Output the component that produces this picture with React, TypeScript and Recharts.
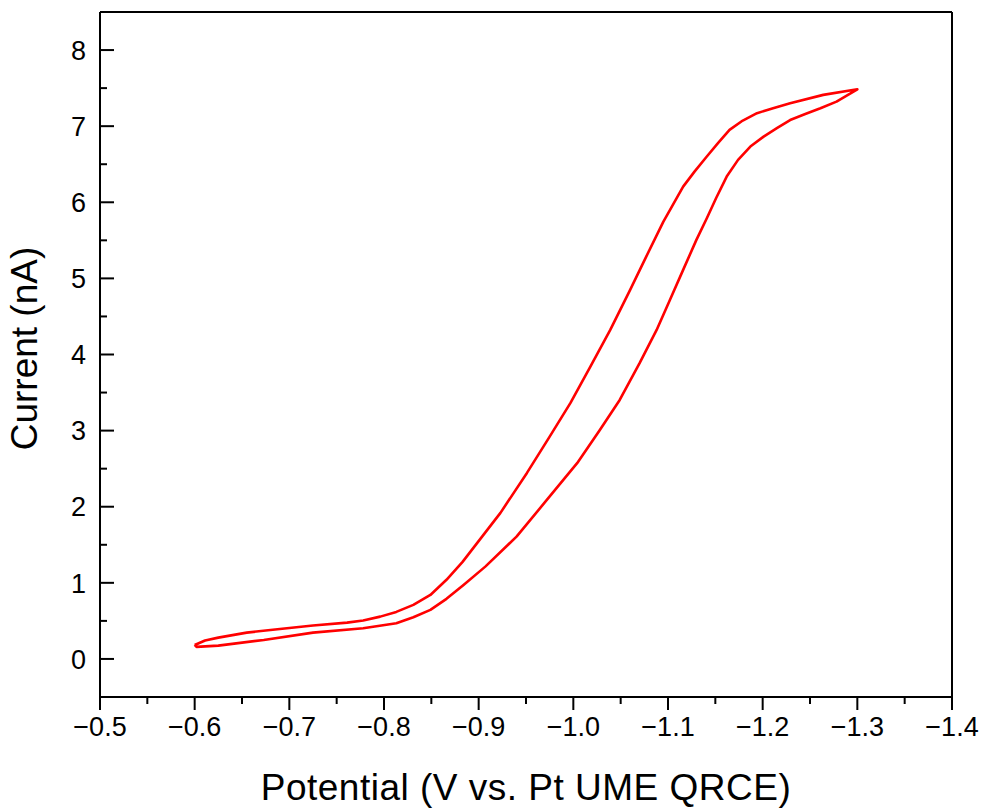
import { LineChart, Line, XAxis, YAxis, ReferenceLine, Label } from "recharts";

// cyclic voltammogram: out along the inner branch, back along the outer one
const potential = [
  -0.6, -0.611, -0.625, -0.655, -0.69, -0.725, -0.761, -0.778, -0.796, -0.813,
  -0.831, -0.849, -0.866, -0.883, -0.923, -0.951, -0.975, -0.997, -1.018, -1.039,
  -1.06, -1.077, -1.095, -1.116, -1.128, -1.141, -1.153, -1.165, -1.179, -1.194,
  -1.211, -1.229, -1.264, -1.3,
  -1.278, -1.261, -1.245, -1.229, -1.215, -1.201, -1.187, -1.174, -1.162, -1.151,
  -1.141, -1.13, -1.116, -1.102, -1.088, -1.07, -1.049, -1.028, -1.004, -0.972,
  -0.94, -0.907, -0.884, -0.866, -0.849, -0.831, -0.813, -0.778, -0.725, -0.673,
  -0.625, -0.602, -0.6,
];
const current = [
  0.184, 0.243, 0.28, 0.346, 0.394, 0.44, 0.477, 0.506, 0.556, 0.618,
  0.71, 0.841, 1.04, 1.275, 1.919, 2.444, 2.921, 3.364, 3.841, 4.323,
  4.849, 5.286, 5.742, 6.206, 6.403, 6.601, 6.78, 6.951, 7.074, 7.171,
  7.236, 7.302, 7.411, 7.484,
  7.323, 7.236, 7.16, 7.08, 6.974, 6.863, 6.732, 6.557, 6.338, 6.06,
  5.791, 5.506, 5.112, 4.717, 4.323, 3.886, 3.403, 3.009, 2.572, 2.089,
  1.607, 1.213, 0.972, 0.79, 0.644, 0.548, 0.469, 0.403, 0.346, 0.25,
  0.175, 0.158, 0.184,
];

const xTicks = [
  -0.5, -0.55, -0.6, -0.65, -0.7, -0.75, -0.8, -0.85, -0.9, -0.95,
  -1.0, -1.05, -1.1, -1.15, -1.2, -1.25, -1.3, -1.35, -1.4,
];
const yTicks = [0, 0.5, 1, 1.5, 2, 2.5, 3, 3.5, 4, 4.5, 5, 5.5, 6, 6.5, 7, 7.5, 8];

const data = potential.map((p, i) => ({ potential: p, current: current[i] }));

const fmtX = (v: number) => v.toFixed(1).replace("-", "\u2212");

const X_MARGIN = 20;
const Y_MARGIN = 14;

const XTick = (props: any) => {
  const { x, y, payload } = props;
  const v = payload.value;
  const major = Math.abs(Math.round(v * 100)) % 10 === 0;
  const axisY = y - X_MARGIN;
  return (
    <g>
      <line x1={x} x2={x} y1={axisY} y2={axisY + (major ? 13 : 7)} stroke="#000" strokeWidth={2} />
      {major && (
        <text x={x} y={y} dy="0.72em" textAnchor="middle" fontSize={27} fill="#000">
          {fmtX(v)}
        </text>
      )}
    </g>
  );
};

const YTick = (props: any) => {
  const { x, y, payload } = props;
  const v = payload.value;
  const major = Number.isInteger(v);
  const axisX = x + Y_MARGIN;
  return (
    <g>
      <line x1={axisX} x2={axisX + (major ? 14 : 7)} y1={y} y2={y} stroke="#000" strokeWidth={2} />
      {major && (
        <text x={x} y={y} dy="0.36em" textAnchor="end" fontSize={27} fill="#000">
          {v}
        </text>
      )}
    </g>
  );
};

const XTitle = (props: any) => {
  const { x, y, width } = props.viewBox;
  return (
    <text x={x + width / 2} y={y + 103} textAnchor="middle" fontSize={37} letterSpacing={0.5} fill="#000">
      Potential (V vs. Pt UME QRCE)
    </text>
  );
};

const YTitle = (props: any) => {
  const { y, height } = props.viewBox;
  const cx = 37;
  const cy = y + height / 2 - 6;
  return (
    <text x={cx} y={cy} transform={`rotate(-90, ${cx}, ${cy})`} textAnchor="middle" fontSize={37} fill="#000">
      Current (nA)
    </text>
  );
};

export default function App() {
  return (
    <div style={{ position: "absolute", left: 0, top: 0, background: "#fff", fontFamily: "'Liberation Sans', Arial, sans-serif" }}>
      <LineChart width={985} height={809} data={data} margin={{ top: 12, right: 33, bottom: 0, left: 0 }}>
        <XAxis
          type="number"
          dataKey="potential"
          domain={[-1.4, -0.5]}
          reversed
          ticks={xTicks}
          interval={0}
          tickSize={0}
          tickMargin={X_MARGIN}
          tickLine={false}
          tick={(p: any) => <XTick {...p} />}
          axisLine={{ stroke: "#000", strokeWidth: 2 }}
          height={112}
        >
          <Label content={XTitle} />
        </XAxis>
        <YAxis
          type="number"
          domain={[-0.5, 8.5]}
          ticks={yTicks}
          interval={0}
          tickSize={0}
          tickMargin={Y_MARGIN}
          tickLine={false}
          tick={(p: any) => <YTick {...p} />}
          axisLine={{ stroke: "#000", strokeWidth: 2 }}
          width={100}
        >
          <Label content={YTitle} />
        </YAxis>
        <ReferenceLine y={8.5} stroke="#000" strokeWidth={2} />
        <ReferenceLine x={-1.4} stroke="#000" strokeWidth={2} />
        <Line
          type="linear"
          dataKey="current"
          stroke="#ff0000"
          strokeWidth={2.6}
          strokeLinejoin="round"
          dot={false}
          isAnimationActive={false}
        />
      </LineChart>
    </div>
  );
}
